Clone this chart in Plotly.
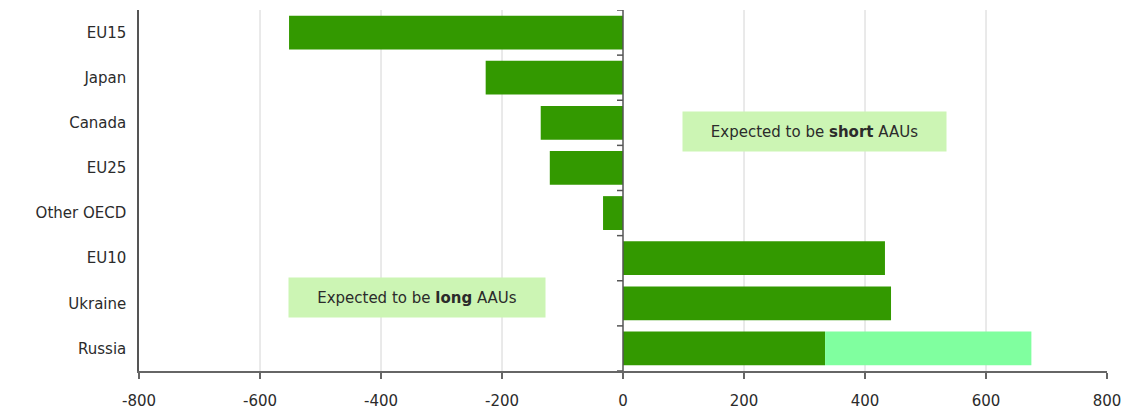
import plotly.graph_objects as go

categories = ["EU15", "Japan", "Canada", "EU25", "Other OECD", "EU10", "Ukraine", "Russia"]
base_values = [-552, -227, -136, -121, -33, 433, 443, 334]
extra_values = [0, 0, 0, 0, 0, 0, 0, 341]
x_ticks = [-800, -600, -400, -200, 0, 200, 400, 600, 800]

DARK = "#339900"
LIGHT = "#80FF9F"
TEXT = "#2b2b2b"
FONT = "DejaVu Sans"

fig = go.Figure()
fig.add_trace(go.Bar(y=categories, x=base_values, orientation="h",
                     marker=dict(color=DARK, line=dict(width=0)), showlegend=False))
fig.add_trace(go.Bar(y=categories, x=extra_values, orientation="h",
                     marker=dict(color=LIGHT, line=dict(width=0)), showlegend=False))

shapes = []
# gridlines (not at the outer edges or zero)
for t in x_ticks:
    if t in (x_ticks[0], x_ticks[-1], 0):
        continue
    shapes.append(dict(type="line", xref="x", yref="paper", x0=t, x1=t, y0=0, y1=1,
                       line=dict(color="#d4d4d4", width=1), layer="below"))
# zero axis line
shapes.append(dict(type="line", xref="x", yref="paper", x0=0, x1=0, y0=0, y1=1,
                   line=dict(color="#555555", width=1.5), layer="above"))
# tick marks on the zero axis at category boundaries
for k in range(len(categories) + 1):
    shapes.append(dict(type="line", xref="x", yref="y", xsizemode="pixel", xanchor=0,
                       x0=-6, x1=0, y0=k - 0.5, y1=k - 0.5,
                       line=dict(color="#555555", width=1.5), layer="above"))

fig.update_layout(
    width=1136, height=412,
    margin=dict(l=139, r=29, t=10, b=41),
    barmode="relative",
    bargap=0.25,
    plot_bgcolor="white",
    paper_bgcolor="white",
    font=dict(family=FONT, size=15, color=TEXT),
    shapes=shapes,
    xaxis=dict(range=[-800, 800], tickvals=x_ticks, ticktext=[str(t) for t in x_ticks],
               showgrid=False, zeroline=False, showline=True, linecolor="#666666", linewidth=2,
               ticks="outside", ticklen=6, tickcolor="#666666", tickwidth=1.5, automargin=False,
               ticklabelstandoff=9, tickfont=dict(size=15, color=TEXT)),
    yaxis=dict(categoryorder="array", categoryarray=categories, range=[7.5, -0.5],
               showgrid=False, zeroline=False, showline=True, linecolor="#555555", linewidth=1.5,
               ticks="", ticklabelstandoff=8, automargin=False, tickfont=dict(size=15, color=TEXT)),
    annotations=[
        dict(x=316, y=2.2, xref="x", yref="y", text="Expected to be <b>short</b> AAUs",
             showarrow=False, bgcolor="#CCF5B4", width=257, height=33, borderpad=3,
             font=dict(family=FONT, size=15, color=TEXT)),
        dict(x=-340, y=5.88, xref="x", yref="y", text="Expected to be <b>long</b> AAUs",
             showarrow=False, bgcolor="#CCF5B4", width=250, height=33, borderpad=3,
             font=dict(family=FONT, size=15, color=TEXT)),
    ],
)

fig.write_html("out.html")
